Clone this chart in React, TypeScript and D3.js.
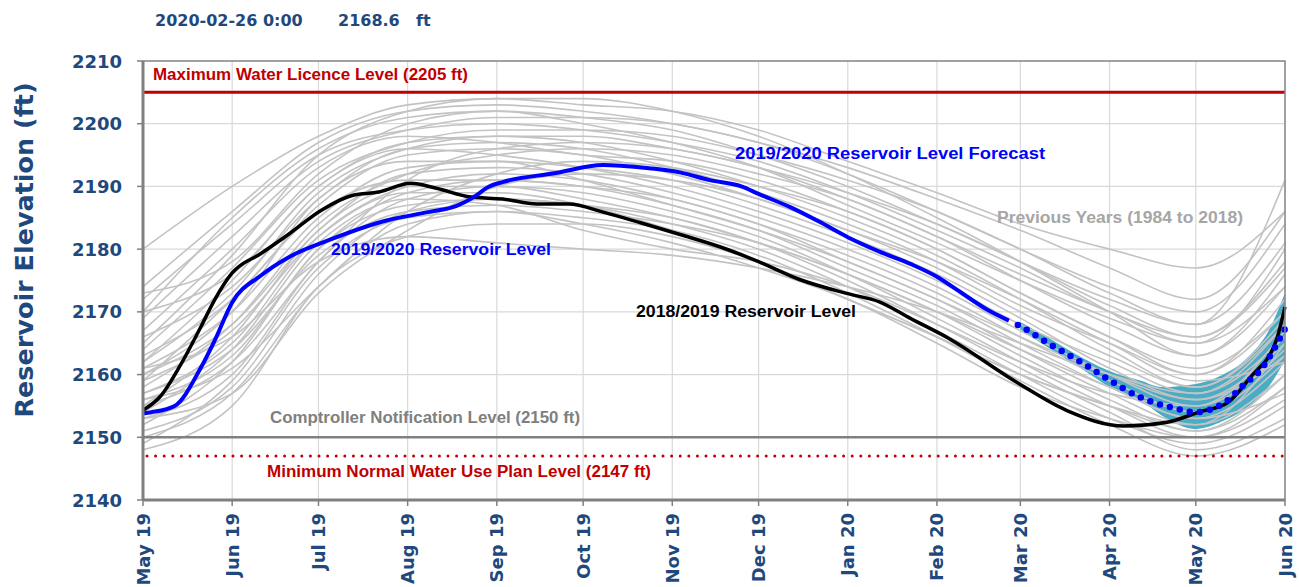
import React, { useEffect, useRef } from "react";
import * as d3 from "d3";

const W = 1299;
const H = 587;

// ---------- data ----------
const yTicks = [2140, 2150, 2160, 2170, 2180, 2190, 2200, 2210];
const monthTicks = [
  "2019-05-01", "2019-06-01", "2019-07-01", "2019-08-01", "2019-09-01", "2019-10-01", "2019-11-01",
  "2019-12-01", "2020-01-01", "2020-02-01", "2020-03-01", "2020-04-01", "2020-05-01", "2020-06-01",
];

// previous years (1984 to 2018), sampled at the first of each month May..Jun
const previousYears: number[][] = [
  [2180, 2190, 2198, 2203, 2204, 2203, 2202, 2199, 2194, 2189, 2184, 2180, 2177, 2186],
  [2174, 2186, 2197, 2202, 2203, 2202, 2200, 2197, 2192, 2186, 2180, 2174, 2170, 2184],
  [2173, 2178, 2192, 2200, 2202, 2201, 2199, 2195, 2190, 2184, 2178, 2172, 2168, 2191],
  [2172, 2184, 2195, 2199, 2200, 2199, 2197, 2194, 2189, 2183, 2177, 2170, 2166, 2178],
  [2170, 2176, 2190, 2197, 2198, 2198, 2196, 2193, 2188, 2182, 2175, 2168, 2163, 2176],
  [2167, 2180, 2193, 2198, 2197, 2195, 2194, 2191, 2186, 2180, 2173, 2166, 2160, 2172],
  [2166, 2174, 2188, 2196, 2197, 2196, 2193, 2189, 2184, 2178, 2171, 2165, 2160, 2170],
  [2163, 2172, 2187, 2195, 2196, 2195, 2192, 2188, 2183, 2177, 2170, 2163, 2158, 2168],
  [2162, 2175, 2190, 2196, 2195, 2193, 2190, 2186, 2181, 2175, 2168, 2162, 2157, 2166],
  [2161, 2170, 2185, 2193, 2194, 2193, 2191, 2187, 2182, 2176, 2169, 2161, 2156, 2165],
  [2160, 2168, 2183, 2192, 2193, 2192, 2189, 2185, 2180, 2174, 2167, 2160, 2155, 2167],
  [2159, 2172, 2186, 2191, 2191, 2190, 2188, 2184, 2179, 2173, 2166, 2159, 2154, 2163],
  [2157, 2165, 2182, 2190, 2192, 2191, 2188, 2184, 2178, 2172, 2165, 2158, 2153, 2162],
  [2156, 2163, 2180, 2189, 2191, 2190, 2187, 2183, 2177, 2171, 2164, 2157, 2152, 2160],
  [2155, 2166, 2183, 2190, 2190, 2188, 2185, 2181, 2176, 2170, 2163, 2156, 2151, 2158],
  [2153, 2160, 2178, 2188, 2190, 2189, 2186, 2182, 2176, 2169, 2162, 2155, 2150, 2156],
  [2152, 2162, 2180, 2187, 2188, 2187, 2184, 2180, 2174, 2167, 2160, 2153, 2149, 2155],
  [2151, 2158, 2176, 2186, 2188, 2187, 2185, 2181, 2175, 2168, 2161, 2154, 2148, 2153],
  [2150, 2157, 2174, 2184, 2186, 2185, 2183, 2179, 2173, 2166, 2159, 2152, 2147, 2152],
  [2149, 2159, 2177, 2185, 2186, 2184, 2181, 2177, 2172, 2165, 2158, 2153, 2150, 2158],
  [2148, 2155, 2174, 2182, 2184, 2184, 2182, 2178, 2172, 2166, 2160, 2155, 2151, 2160],
  [2158, 2168, 2184, 2192, 2195, 2196, 2195, 2192, 2188, 2182, 2176, 2170, 2165, 2174],
  [2164, 2177, 2191, 2197, 2199, 2199, 2198, 2195, 2191, 2186, 2180, 2173, 2168, 2181],
  [2154, 2164, 2181, 2188, 2187, 2183, 2180, 2178, 2174, 2168, 2162, 2157, 2155, 2164],
  [2161, 2166, 2178, 2182, 2181, 2180, 2179, 2177, 2174, 2170, 2165, 2160, 2157, 2168],
  [2169, 2182, 2194, 2199, 2201, 2201, 2200, 2197, 2193, 2188, 2183, 2177, 2172, 2186],
  [2156, 2161, 2174, 2186, 2192, 2194, 2193, 2190, 2186, 2180, 2173, 2166, 2161, 2170],
  [2153, 2157, 2173, 2183, 2190, 2192, 2191, 2188, 2183, 2178, 2172, 2165, 2159, 2162],
  [2165, 2179, 2195, 2202, 2204, 2204, 2202, 2198, 2192, 2185, 2178, 2170, 2163, 2174],
  [2160, 2170, 2188, 2194, 2194, 2191, 2187, 2183, 2178, 2172, 2166, 2160, 2156, 2163],
  [2162, 2173, 2189, 2196, 2198, 2197, 2194, 2190, 2185, 2179, 2172, 2164, 2158, 2169],
  [2157, 2164, 2179, 2186, 2187, 2186, 2184, 2181, 2176, 2170, 2164, 2158, 2153, 2157],
  [2170, 2185, 2196, 2201, 2202, 2200, 2197, 2193, 2187, 2181, 2175, 2169, 2165, 2180],
  [2155, 2162, 2178, 2191, 2196, 2197, 2196, 2193, 2189, 2184, 2178, 2171, 2166, 2177],
  [2159, 2167, 2182, 2189, 2189, 2187, 2183, 2178, 2172, 2166, 2160, 2155, 2152, 2165],
];

// 2019/2020 reservoir level
const level1920Dates = [
  "2019-05-01", "2019-05-04", "2019-05-12", "2019-05-21", "2019-05-26", "2019-06-01", "2019-06-11",
  "2019-06-21", "2019-07-05", "2019-07-25", "2019-08-08", "2019-08-18", "2019-08-24", "2019-08-29",
  "2019-09-03", "2019-09-21", "2019-10-08", "2019-10-14", "2019-10-24", "2019-11-04", "2019-11-14",
  "2019-11-25", "2019-12-01", "2019-12-12", "2019-12-22", "2020-01-01", "2020-01-12", "2020-01-23",
  "2020-02-01", "2020-02-09", "2020-02-19", "2020-02-26",
];
const level1920Values = [
  2153.8, 2154.0, 2155.0, 2161.0, 2165.5, 2171.5, 2175.8,
  2178.8, 2181.5, 2184.6, 2185.9, 2186.9, 2188.3, 2189.9,
  2190.7, 2192.1, 2193.4, 2193.3, 2192.9, 2192.2, 2191.0,
  2190.0, 2188.8, 2186.7, 2184.4, 2181.9, 2179.6, 2177.6,
  2175.6, 2173.2, 2170.2, 2168.6,
];

// 2018/2019 reservoir level
const level1819Dates = [
  "2019-05-01", "2019-05-07", "2019-05-14", "2019-05-21", "2019-05-26", "2019-06-01", "2019-06-11",
  "2019-06-21", "2019-07-02", "2019-07-13", "2019-07-22", "2019-08-02", "2019-08-11", "2019-08-23",
  "2019-09-03", "2019-09-15", "2019-09-26", "2019-10-08", "2019-10-21", "2019-11-04", "2019-11-18",
  "2019-12-01", "2019-12-15", "2020-01-01", "2020-01-12", "2020-01-23", "2020-02-05", "2020-02-29",
  "2020-03-17", "2020-04-06", "2020-04-21", "2020-05-02", "2020-05-12", "2020-05-20", "2020-05-29",
  "2020-06-01",
];
const level1819Values = [
  2154.3, 2156.5, 2161.5, 2167.5, 2172.0, 2176.2, 2179.3,
  2182.5, 2186.2, 2188.6, 2189.1, 2190.5, 2189.7, 2188.3,
  2188.0, 2187.2, 2187.2, 2185.9, 2184.2, 2182.3, 2180.3,
  2178.0, 2175.2, 2172.9, 2171.6, 2168.9, 2165.8, 2158.7,
  2154.3, 2151.8, 2152.4, 2154.0, 2155.5, 2159.6, 2165.5,
  2170.8,
];

// 2019/2020 forecast
const forecastDates = [
  "2020-02-26", "2020-03-01", "2020-03-11", "2020-03-22", "2020-04-01", "2020-04-12", "2020-04-23",
  "2020-05-01", "2020-05-12", "2020-05-18", "2020-05-24", "2020-05-28", "2020-06-01",
];
const forecastValues = [
  2168.6, 2167.7, 2164.9, 2162.0, 2159.1, 2156.3, 2154.7,
  2154.0, 2155.9, 2158.5, 2161.0, 2163.9, 2167.3,
];

// forecast range band
const bandDates = [
  "2020-03-01", "2020-03-11", "2020-03-22", "2020-04-03", "2020-04-12", "2020-04-19",
  "2020-05-01", "2020-05-10", "2020-05-18", "2020-05-27", "2020-06-01",
];
const bandUpper = [2168.4, 2165.8, 2162.8, 2160.2, 2159.0, 2158.0, 2158.5, 2159.9, 2162.3, 2167.6, 2173.0];
const bandLower = [2167.2, 2164.2, 2161.0, 2157.5, 2155.9, 2153.5, 2151.3, 2152.5, 2154.5, 2158.5, 2162.3];

const maxLicenceLevel = 2205;
const comptrollerLevel = 2150;
const minNormalLevel = 2147;

const headerDate = "2020-02-26 0:00";
const headerValue = "2168.6";
const headerUnit = "ft";

// ---------- component ----------
export default function App() {
  const ref = useRef<SVGSVGElement | null>(null);

  useEffect(() => {
    const parse = d3.timeParse("%Y-%m-%d");
    const svg = d3.select(ref.current);
    svg.selectAll("*").remove();

    const left = 143, top = 61, bottom = 500;
    const x = d3.scaleTime()
      .domain([parse("2019-05-01")!, parse("2020-06-01")!])
      .range([143, 1285]);
    const y = d3.scaleLinear().domain([2140, 2210]).range([bottom, top]);
    const right = x.range()[1];

    const blueDark = "#1f497d";
    const tickFont = "'DejaVu Sans', Verdana, sans-serif";
    const labelFont = "'Liberation Sans', Arial, sans-serif";

    svg.append("rect").attr("width", W).attr("height", H).attr("fill", "#fff");

    // gridlines
    const grid = svg.append("g");
    yTicks.forEach((t) => {
      grid.append("line").attr("x1", left).attr("x2", right).attr("y1", y(t)).attr("y2", y(t))
        .attr("stroke", "#d9d9d9").attr("stroke-width", 1.2);
    });
    monthTicks.forEach((m) => {
      const xx = x(parse(m)!);
      grid.append("line").attr("x1", xx).attr("x2", xx).attr("y1", top).attr("y2", bottom)
        .attr("stroke", "#d9d9d9").attr("stroke-width", 1.2);
    });

    // band
    const bandData = bandDates.map((d, i) => ({ d: parse(d)!, hi: bandUpper[i], lo: bandLower[i] }));
    svg.append("path").datum(bandData)
      .attr("d", d3.area<any>().x((p) => x(p.d)).y0((p) => y(p.lo)).y1((p) => y(p.hi)).curve(d3.curveMonotoneX))
      .attr("fill", "#4bacc6");

    // previous years
    const monthDates = monthTicks.map((m) => parse(m)!);
    const grayLine = d3.line<number>().x((_, i) => x(monthDates[i])).y((v) => y(v)).curve(d3.curveMonotoneX);
    const gray = svg.append("g");
    previousYears.forEach((s) => {
      gray.append("path").attr("d", grayLine(s)!).attr("fill", "none")
        .attr("stroke", "#c3c3c3").attr("stroke-width", 1.6);
    });

    // reference lines
    svg.append("line").attr("x1", left).attr("x2", right).attr("y1", y(maxLicenceLevel)).attr("y2", y(maxLicenceLevel))
      .attr("stroke", "#c00000").attr("stroke-width", 3);
    svg.append("line").attr("x1", left).attr("x2", right).attr("y1", y(comptrollerLevel)).attr("y2", y(comptrollerLevel))
      .attr("stroke", "#808080").attr("stroke-width", 2.5);
    svg.append("line").attr("x1", left + 4).attr("x2", right).attr("y1", y(minNormalLevel)).attr("y2", y(minNormalLevel))
      .attr("stroke", "#c00000").attr("stroke-width", 3).attr("stroke-dasharray", "0 8.6").attr("stroke-linecap", "round");

    const line = d3.line<[Date, number]>().x((p) => x(p[0])).y((p) => y(p[1])).curve(d3.curveMonotoneX);

    // 2018/2019
    const d1819 = level1819Dates.map((d, i) => [parse(d)!, level1819Values[i]] as [Date, number]);
    svg.append("path").attr("d", line(d1819)!).attr("fill", "none").attr("stroke", "#000").attr("stroke-width", 3.5);

    // 2019/2020
    const d1920 = level1920Dates.map((d, i) => [parse(d)!, level1920Values[i]] as [Date, number]);
    svg.append("path").attr("d", line(d1920)!).attr("fill", "none").attr("stroke", "#0000ff").attr("stroke-width", 4);

    // forecast dotted
    const dfc = forecastDates.map((d, i) => [parse(d)!, forecastValues[i]] as [Date, number]);
    svg.append("path").attr("d", line(dfc)!).attr("fill", "none").attr("stroke", "#0000ff")
      .attr("stroke-width", 6.5).attr("stroke-dasharray", "0 10.2").attr("stroke-linecap", "round")
      .attr("stroke-dashoffset", -10);

    // frame
    svg.append("rect").attr("x", left).attr("y", top).attr("width", right - left).attr("height", bottom - top)
      .attr("fill", "none").attr("stroke", "#888").attr("stroke-width", 1.5);
    svg.append("line").attr("x1", left).attr("x2", left).attr("y1", top).attr("y2", bottom)
      .attr("stroke", "#808080").attr("stroke-width", 3);
    svg.append("line").attr("x1", left).attr("x2", right).attr("y1", bottom).attr("y2", bottom)
      .attr("stroke", "#808080").attr("stroke-width", 3);

    // y axis ticks + labels
    yTicks.forEach((t) => {
      svg.append("line").attr("x1", left - 6).attr("x2", left).attr("y1", y(t)).attr("y2", y(t))
        .attr("stroke", "#808080").attr("stroke-width", 1.5);
      svg.append("text").attr("x", 122).attr("y", y(t) + 6.5).attr("text-anchor", "end")
        .attr("font-family", tickFont).attr("font-weight", "bold").attr("font-size", 18)
        .attr("fill", blueDark).text(String(t));
    });

    // x axis ticks + labels
    const fmt = d3.timeFormat("%b %y");
    monthTicks.forEach((m) => {
      const xx = x(parse(m)!);
      svg.append("line").attr("x1", xx).attr("x2", xx).attr("y1", bottom).attr("y2", bottom + 6)
        .attr("stroke", "#808080").attr("stroke-width", 1.5);
      svg.append("text").attr("transform", `translate(${xx + 6.5},513) rotate(-90)`).attr("text-anchor", "end")
        .attr("font-family", tickFont).attr("font-weight", "bold").attr("font-size", 18)
        .attr("fill", blueDark).text(fmt(parse(m)!));
    });

    // y axis title
    svg.append("text").attr("transform", `translate(33,250) rotate(-90)`).attr("text-anchor", "middle")
      .attr("font-family", tickFont).attr("font-weight", "bold").attr("font-size", 25)
      .attr("textLength", 335).attr("lengthAdjust", "spacingAndGlyphs")
      .attr("fill", blueDark).text("Reservoir Elevation (ft)");

    // header
    const hdr = (tx: number, s: string) =>
      svg.append("text").attr("x", tx).attr("y", 26).attr("font-family", tickFont).attr("font-weight", "bold")
        .attr("font-size", 16).attr("fill", blueDark).text(s);
    hdr(155, headerDate);
    hdr(338, headerValue);
    hdr(416, headerUnit);

    // annotations
    const ann = (tx: number, ty: number, len: number, color: string, s: string) =>
      svg.append("text").attr("x", tx).attr("y", ty).attr("font-family", labelFont).attr("font-weight", "bold")
        .attr("font-size", 16).attr("textLength", len).attr("lengthAdjust", "spacingAndGlyphs")
        .attr("fill", color).text(s);
    ann(153, 80, 315, "#c00000", `Maximum Water Licence Level (${maxLicenceLevel} ft)`);
    ann(735, 159, 310, "#0000ff", "2019/2020 Reservoir Level Forecast");
    ann(997, 223, 246, "#a6a6a6", "Previous Years (1984 to 2018)");
    ann(331, 255, 220, "#0000ff", "2019/2020 Reservoir Level");
    ann(636, 317, 220, "#000000", "2018/2019 Reservoir Level");
    ann(270, 423, 310, "#7f7f7f", `Comptroller Notification Level (${comptrollerLevel} ft)`);
    ann(267, 477, 384, "#c00000", `Minimum Normal Water Use Plan Level (${minNormalLevel} ft)`);
  }, []);

  return (
    <svg ref={ref} width={W} height={H}
      style={{ position: "absolute", left: 0, top: 0, display: "block", background: "#fff" }} />
  );
}
